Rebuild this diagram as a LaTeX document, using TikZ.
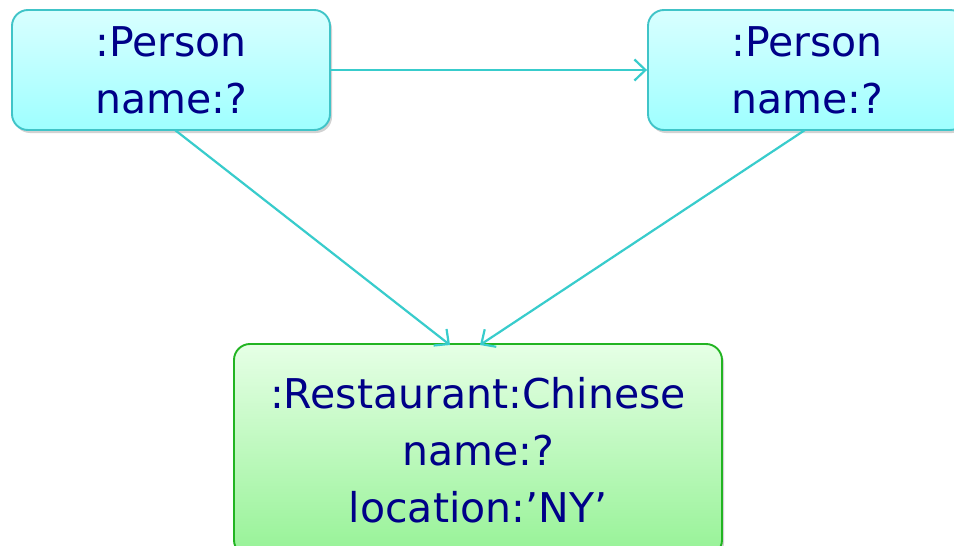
\documentclass[tikz,border=0pt]{standalone}
\usepackage{fontspec}
\setmainfont{DejaVu Sans}
\usetikzlibrary{arrows.meta,shadows}
\definecolor{edgecyan}{HTML}{38CCCC}
\definecolor{boxcyan}{HTML}{40C4C8}
\definecolor{boxgreen}{HTML}{22B422}
\definecolor{navytext}{HTML}{000088}
\tikzset{
  objbox/.style={rounded corners=16pt, line width=1.9pt, align=center,
    text=navytext, font=\fontsize{41}{57}\selectfont, inner sep=0pt,
    drop shadow={opacity=0.35, shadow xshift=2pt, shadow yshift=-3pt}},
  personbox/.style={objbox, draw=boxcyan, top color=cyan!15, bottom color=cyan!38,
    minimum width=318pt, minimum height=120pt},
  placebox/.style={objbox, draw=boxgreen, top color=green!10, bottom color=green!38!white!95!black,
    minimum width=488pt, minimum height=212pt},
  link/.style={draw=edgecyan, line width=2.2pt,
    -{Straight Barb[length=11pt,width=21pt,line width=2.2pt]}}
}
\begin{document}
\begin{tikzpicture}[x=1pt,y=-1pt]
  \clip (0,0) rectangle (954,546);
  \fill[white] (0,0) rectangle (954,546);
  \node[personbox] (p1) at (171,70) {:Person\\name:?};
  \node[personbox] (p2) at (807,70) {:Person\\name:?};
  \node[placebox] (r) at (478,450) {:Restaurant:Chinese\\name:?\\location:’NY’};
  \coordinate (r1) at (450,345);
  \coordinate (r2) at (480,345);
  \coordinate (s1) at (175,130);
  \coordinate (s2) at (805,130);
  \draw[link] (p1.east) -- (p2.west);
  \draw[link] (s1) -- (r1);
  \draw[link] (s2) -- (r2);
\end{tikzpicture}
\end{document}
